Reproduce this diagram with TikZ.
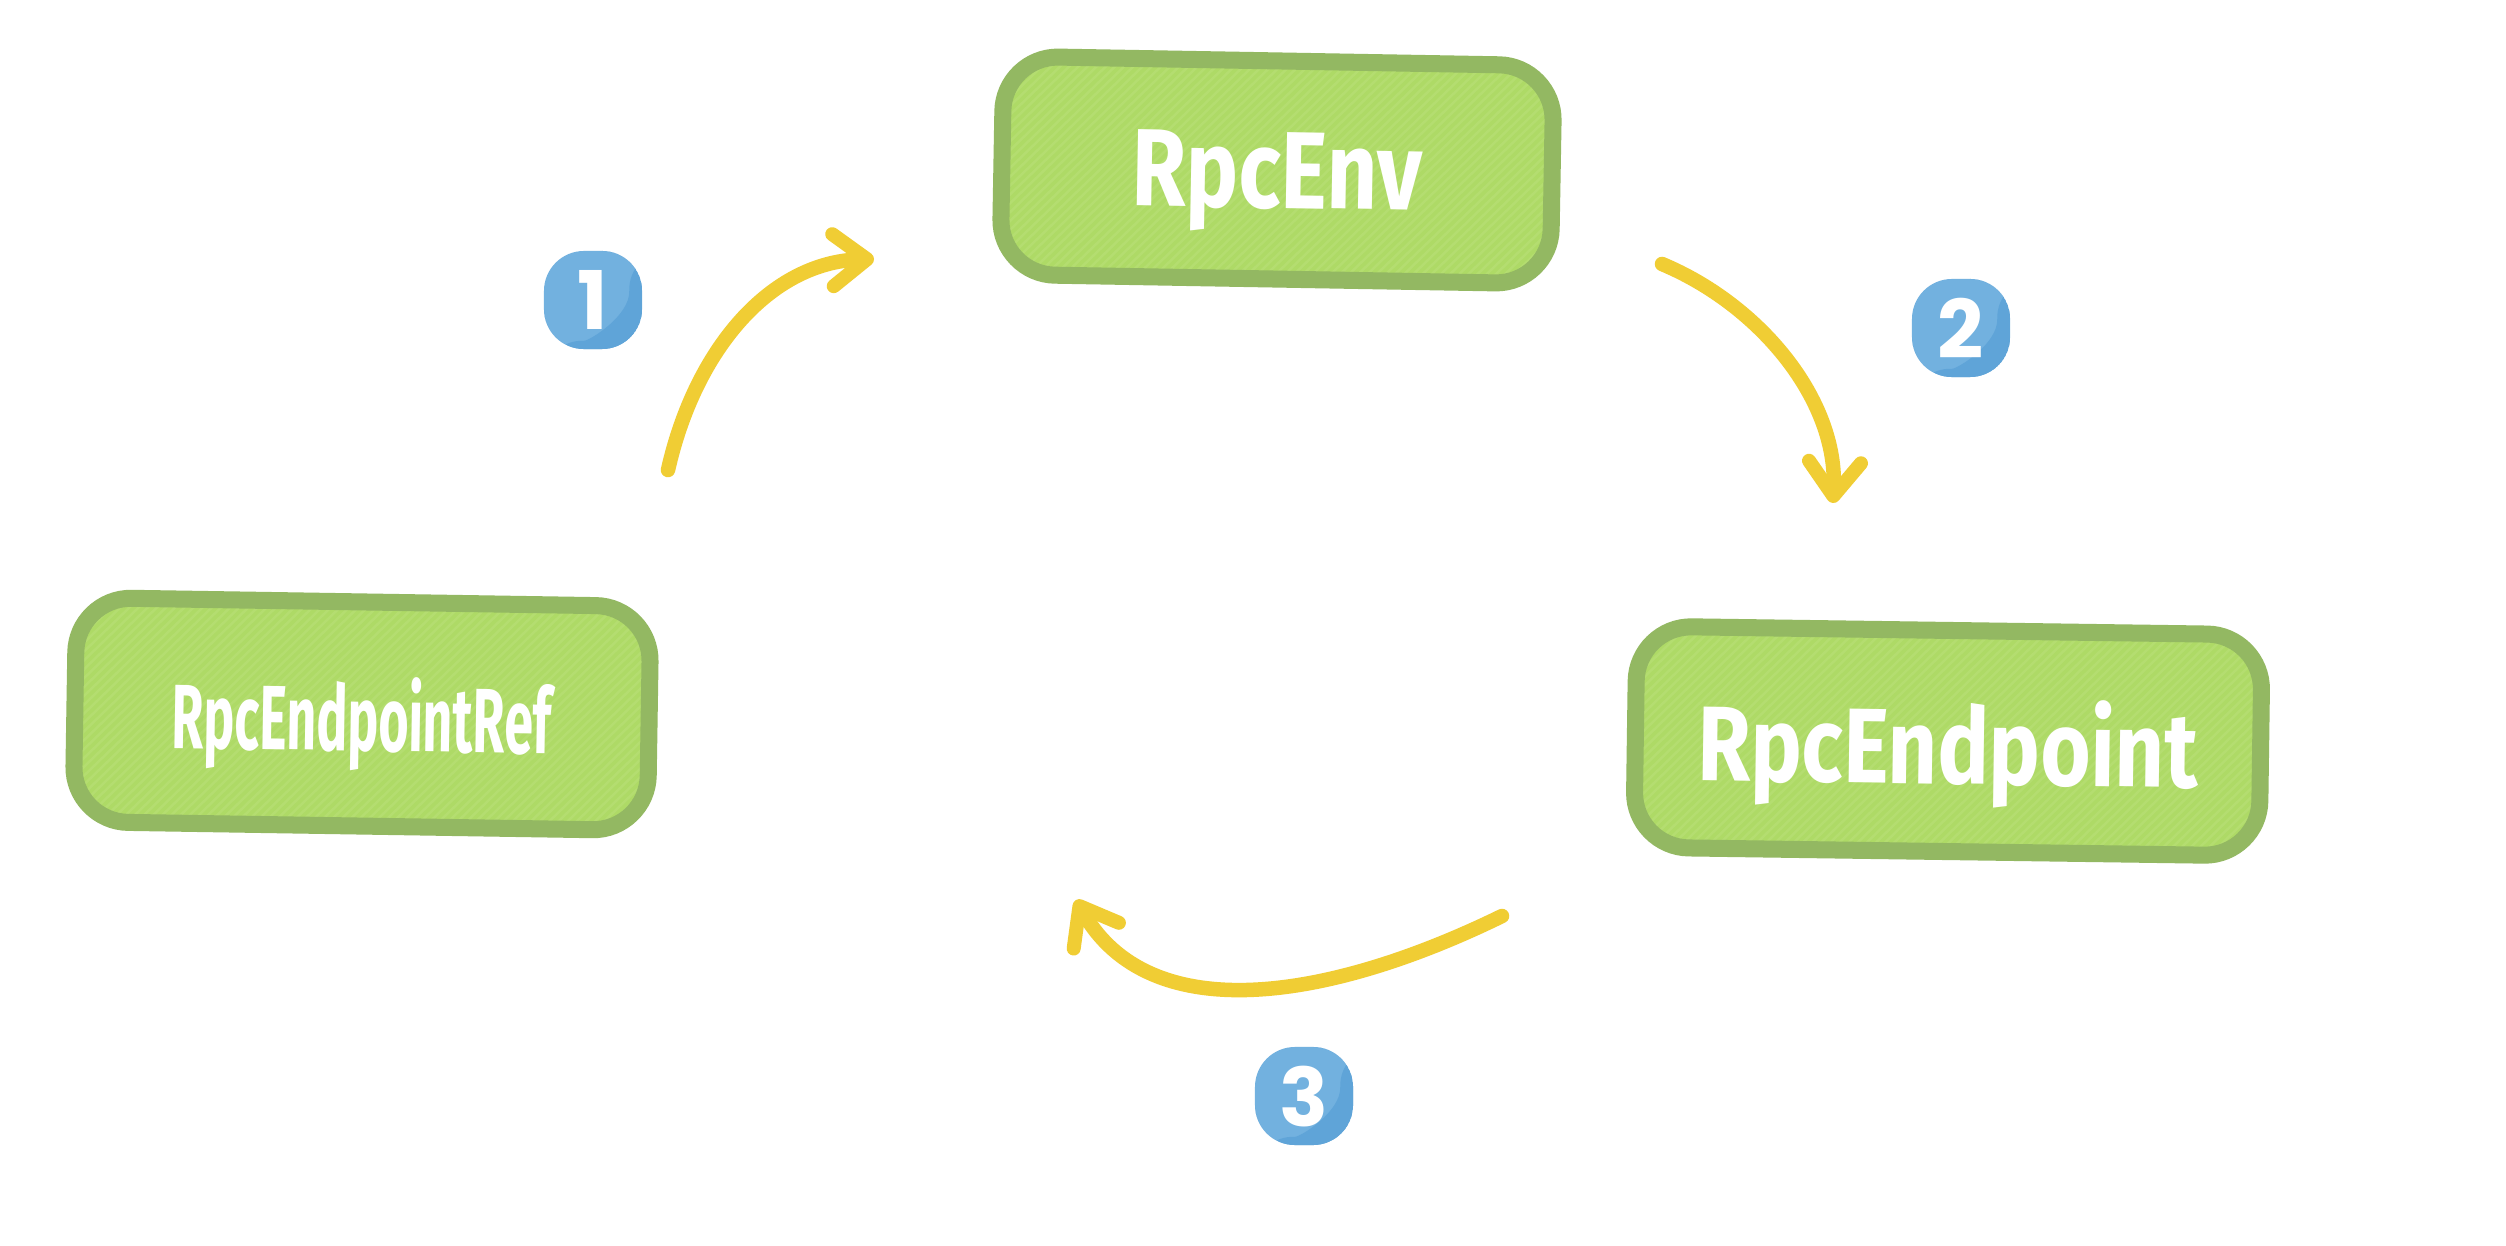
\documentclass[tikz,border=0pt]{standalone}
\usepackage{fontspec}
\setmainfont{Fira Sans}
\newfontfamily\numfont{Poppins}
\usetikzlibrary{arrows.meta}
\definecolor{boxborder}{HTML}{93B862}
\definecolor{boxfill}{HTML}{AEDA66}
\definecolor{boxhatch}{HTML}{B4DD70}
\definecolor{arrowc}{HTML}{F0CD34}
\definecolor{badgelight}{HTML}{72B1DF}
\definecolor{badgedark}{HTML}{5FA4D8}
\tikzset{
  stagebox/.style={draw=boxborder, line width=0.17cm, fill=boxfill,
    rounded corners=0.55cm, text=white, inner sep=0pt, text depth=0pt,
    font=\bfseries,
    path picture={\foreach \i in {-26,...,70}
      \draw[boxhatch, line width=0.025cm]
        ([xshift=\i*0.09cm]path picture bounding box.south west) -- ++(3cm,3cm);}},
  badge/.style={fill=badgelight, rounded corners=0.4cm, minimum width=0.98cm,
    minimum height=0.98cm, inner sep=0pt, text=white, text depth=0pt,
    font=\numfont\fontsize{23}{25}\selectfont\bfseries,
    path picture={\fill[badgedark]
      ([xshift=-0.14cm]path picture bounding box.north east)
      .. controls ([xshift=-0.12cm,yshift=-0.65cm]path picture bounding box.north east)
      and ([xshift=0.45cm,yshift=0.08cm]path picture bounding box.south west)
      .. ([yshift=0.1cm]path picture bounding box.south west)
      -- (path picture bounding box.south west)
      -- (path picture bounding box.south east)
      -- (path picture bounding box.north east) -- cycle;}},
  flow/.style={draw=arrowc, line width=0.145cm, line cap=round,
    -{Straight Barb[length=0.34cm, width=0.52cm, line width=0.14cm,
      line cap=round, line join=round]}}
}
\begin{document}
\begin{tikzpicture}[x=0.01cm, y=-0.01cm]
\fill[white] (0,0) rectangle (2506,1246);
\useasboundingbox (0,0) rectangle (2506,1246);

% boxes
\node[stagebox, minimum width=5.5cm, minimum height=2.18cm, rotate=-1] (env) at (1277,170)
  {\resizebox{2.9cm}{0.76cm}{RpcEnv}};
\node[stagebox, minimum width=5.74cm, minimum height=2.24cm, rotate=-0.9] (ref) at (362,714)
  {\resizebox{3.79cm}{0.74cm}{RpcEndpointRef}};
\node[stagebox, minimum width=6.25cm, minimum height=2.21cm, rotate=-0.8] (ep) at (1948,741)
  {\resizebox{5.0cm}{0.86cm}{RpcEndpoint}};

% badges
\node[badge] (b1) at (593,300) {1};
\node[badge] (b2) at (1961,328) {2};
\node[badge] (b3) at (1304,1096) {3};

% arrows
\coordinate (a1s) at (668,470);
\coordinate (a1e) at (874,259);
\draw[flow] (a1s) .. controls (695,350) and (770,262) .. (a1e);

\coordinate (a2s) at (1662,264);
\coordinate (a2e) at (1833,503);
\draw[flow] (a2s) .. controls (1760,305) and (1838,400) .. (a2e);

\coordinate (a3s) at (1502,916);
\coordinate (a3e) at (1076,900);
\draw[flow] (a3s) .. controls (1330,1000) and (1150,1030) .. (a3e);
\end{tikzpicture}
\end{document}
